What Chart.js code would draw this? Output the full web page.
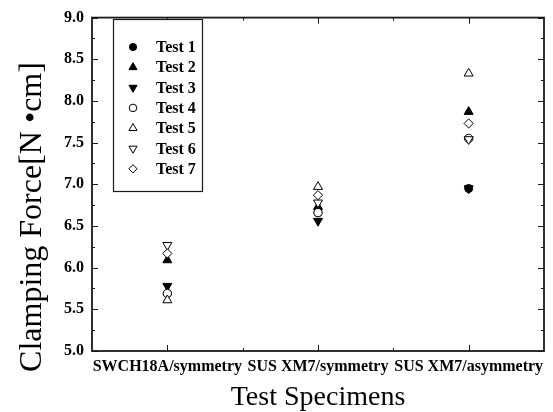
<!DOCTYPE html>
<html>
<head>
<meta charset="utf-8">
<script src="https://cdn.jsdelivr.net/npm/chart.js@4.4.1/dist/chart.umd.min.js"></script>
<style>
    html, body { margin: 0; padding: 0; background: #fff; }
    #wrap { width: 553px; height: 412px; position: relative; }
</style>
</head>
<body>
<div id="wrap"><canvas id="clampChart"></canvas></div>
<script>
/* ======================================================
   DATA
====================================================== */
const specimens = ['SWCH18A/symmetry', 'SUS XM7/symmetry', 'SUS XM7/asymmetry'];

const test1 = [5.69, 6.66, 6.95];
const test2 = [6.09, 6.73, 7.87];
const test3 = [5.78, 6.56, 6.95];
const test4 = [5.69, 6.66, 7.55];
const test5 = [5.61, 6.97, 8.33];
const test6 = [6.27, 6.78, 7.54];
const test7 = [6.17, 6.87, 7.73];

const yTicks = [5.0, 5.5, 6.0, 6.5, 7.0, 7.5, 8.0, 8.5, 9.0];

const SERIF = '"Liberation Serif", "Times New Roman", serif';

function series(label, data, style, filled, radius, rotation, order) {
    return {
        label,
        data,
        order,                 // later tests drawn on top
        showLine: false,
        pointStyle: style,
        pointRotation: rotation || 0,
        pointRadius: radius,
        pointHoverRadius: radius,
        pointBorderWidth: 1,
        borderColor: '#000',
        backgroundColor: filled ? '#000' : '#fff',
        pointBackgroundColor: filled ? '#000' : '#fff',
        pointBorderColor: '#000'
    };
}

const datasets = [
    series('Test 1', test1, 'circle', true, 4, 0, 7),
    series('Test 2', test2, 'triangle', true, 5.2, 0, 6),
    series('Test 3', test3, 'triangle', true, 5.2, 180, 5),
    series('Test 4', test4, 'circle', false, 4.2, 0, 4),
    series('Test 5', test5, 'triangle', false, 5.2, 0, 3),
    series('Test 6', test6, 'triangle', false, 5.2, 180, 2),
    series('Test 7', test7, 'rectRot', false, 4.6, 0, 1)
];

/* ======================================================
   FRAME, INWARD TICKS, LEGEND, Y TITLE
====================================================== */
const framePlugin = {
    id: 'frame',
    afterDraw(chart) {
        const { ctx, chartArea: a, scales } = chart;
        const xs = scales.x, ys = scales.y;
        ctx.save();
        ctx.strokeStyle = '#1a1a1a';

        // y ticks (major every 0.5, minor every 0.25), left and right
        ctx.lineWidth = 1;
        for (let v = 5.0; v <= 9.0001; v += 0.25) {
            const py = Math.round(ys.getPixelForValue(v)) + 0.5;
            const major = Math.abs(v * 2 - Math.round(v * 2)) < 1e-6;
            const len = major ? 6 : 3;
            ctx.beginPath();
            ctx.moveTo(a.left, py); ctx.lineTo(a.left + len, py);
            ctx.moveTo(a.right, py); ctx.lineTo(a.right - len, py);
            ctx.stroke();
        }

        // x ticks: major at categories, minor between them
        for (let i = 0; i < specimens.length; i++) {
            const px = xs.getPixelForValue(i);
            const half = (xs.getPixelForValue(1) - xs.getPixelForValue(0)) / 2;
            const marks = [[px, 6]];
            if (i < specimens.length - 1) marks.push([px + half, 3]);
            marks.forEach(([mx, len]) => {
                const x = Math.round(mx) + 0.5;
                ctx.beginPath();
                ctx.moveTo(x, a.bottom); ctx.lineTo(x, a.bottom - len);
                ctx.moveTo(x, a.top); ctx.lineTo(x, a.top + len);
                ctx.stroke();
            });
        }

        // plot frame
        ctx.lineWidth = 1.8;
        ctx.strokeRect(a.left, a.top, a.right - a.left, a.bottom - a.top);

        // legend box
        const lx = 113, ly = 19, lw = 89, lh = 172;
        ctx.fillStyle = '#fff';
        ctx.fillRect(lx, ly, lw, lh);
        ctx.lineWidth = 1.2;
        ctx.strokeRect(lx + 0.5, ly + 0.5, lw, lh);

        ctx.font = 'bold 16px ' + SERIF;
        ctx.textBaseline = 'middle';
        ctx.textAlign = 'left';
        chart.data.datasets.forEach((ds, i) => {
            const cy = 47 + i * 20.3;
            ctx.fillStyle = ds.pointBackgroundColor;
            ctx.strokeStyle = '#000';
            ctx.lineWidth = 1;
            Chart.helpers.drawPoint(ctx, {
                pointStyle: ds.pointStyle,
                rotation: ds.pointRotation,
                radius: ds.pointRadius * 0.9,
                borderWidth: 1
            }, 133, cy);
            ctx.fillStyle = '#000';
            ctx.fillText(ds.label, 156, cy + 1);
        });

        // y axis title
        ctx.save();
        ctx.translate(33, 217);
        ctx.rotate(-Math.PI / 2);
        ctx.font = '32px ' + SERIF;
        ctx.textAlign = 'center';
        ctx.textBaseline = 'middle';
        ctx.fillStyle = '#000';
        ctx.fillText('Clamping Force[N \u2022cm]', 0, 0);
        ctx.restore();

        ctx.restore();
    }
};

/* ======================================================
   CHART
====================================================== */
const ctx = document.getElementById('clampChart').getContext('2d');

new Chart(ctx, {
    type: 'line',
    data: {
        labels: specimens,
        datasets
    },
    options: {
        responsive: true,
        maintainAspectRatio: false,
        animation: false,
        layout: { padding: { top: 17, right: 9, left: 0, bottom: 0 } },
        plugins: {
            legend: { display: false },
            tooltip: { enabled: false }
        },
        scales: {
            x: {
                type: 'category',
                offset: true,
                grid: { display: false, drawTicks: false },
                border: { display: false },
                ticks: {
                    autoSkip: false,
                    maxRotation: 0,
                    minRotation: 0,
                    padding: 6,
                    color: '#000',
                    font: { family: SERIF, size: 16, weight: 'bold' }
                },
                title: {
                    display: true,
                    text: 'Test Specimens',
                    color: '#000',
                    padding: { top: 4, bottom: -2 },
                    font: { family: SERIF, size: 28 }
                },
                afterFit: s => { s.height = 61; }
            },
            y: {
                min: 5,
                max: 9,
                grid: { display: false, drawTicks: false },
                border: { display: false },
                afterBuildTicks: s => { s.ticks = yTicks.map(v => ({ value: v })); },
                ticks: {
                    padding: 8,
                    color: '#000',
                    font: { family: SERIF, size: 16, weight: 'bold' },
                    callback: v => Number(v).toFixed(1)
                },
                afterFit: s => { s.width = 92; }
            }
        }
    },
    plugins: [framePlugin]
});
</script>
</body>
</html>
